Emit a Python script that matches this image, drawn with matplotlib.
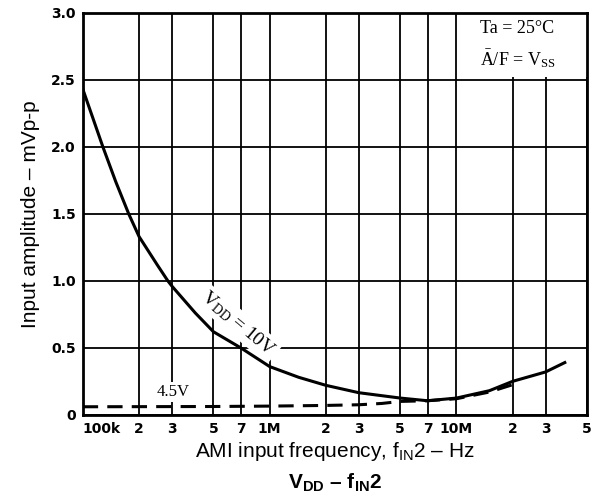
import numpy as np
import matplotlib.pyplot as plt
from matplotlib.patches import Rectangle

# data
freq_10v = [1.0e5, 1.28e5, 1.5e5, 1.76e5, 2.0e5, 2.5e5, 2.85e5, 3.0e5, 4.0e5, 5.0e5, 7.0e5,
            1.0e6, 1.43e6, 2.0e6, 3.0e6, 5.0e6, 7.0e6, 1.0e7, 1.5e7, 2.0e7, 3.0e7, 3.8e7]
amp_10v = [2.43, 2.0, 1.74, 1.50, 1.33, 1.12, 1.0, 0.96, 0.76, 0.62, 0.50,
           0.36, 0.28, 0.22, 0.165, 0.125, 0.105, 0.125, 0.18, 0.25, 0.32, 0.39]

freq_45v = [1.0e5, 5.0e5, 1.0e6, 2.0e6, 3.0e6, 4.0e6, 5.0e6, 7.0e6, 1.0e7, 1.5e7, 2.0e7, 2.2e7]
amp_45v = [0.06, 0.062, 0.065, 0.07, 0.075, 0.085, 0.10, 0.105, 0.12, 0.17, 0.225, 0.24]

xtick_vals = [1e5, 2e5, 3e5, 5e5, 7e5, 1e6, 2e6, 3e6, 5e6, 7e6, 1e7, 2e7, 3e7, 5e7]
xtick_labels = ['100k', '2', '3', '5', '7', '1M', '2', '3', '5', '7', '10M', '2', '3', '5']
ytick_vals = [0, 0.5, 1.0, 1.5, 2.0, 2.5, 3.0]
ytick_labels = ['0', '0.5', '1.0', '1.5', '2.0', '2.5', '3.0']

plt.rcParams['mathtext.fontset'] = 'custom'
plt.rcParams['mathtext.rm'] = 'Liberation Serif'
plt.rcParams['mathtext.it'] = 'Liberation Serif:italic'
plt.rcParams['mathtext.bf'] = 'Liberation Sans:bold'
plt.rcParams['mathtext.sf'] = 'Liberation Sans'

fig = plt.figure(figsize=(5.96, 4.95), dpi=100)
ax = fig.add_axes([0.139, 0.162, 0.846, 0.812])

ax.set_xscale('log')
ax.set_xlim(1e5, 5e7)
ax.set_ylim(0, 3.0)
ax.minorticks_off()

ax.set_xticks(xtick_vals)
ax.set_xticklabels(xtick_labels, fontsize=10, fontweight='bold', family='DejaVu Sans')
ax.get_xticklabels()[0].set_horizontalalignment('left')
ax.set_yticks(ytick_vals)
ax.set_yticklabels(ytick_labels, fontsize=10, fontweight='bold', family='DejaVu Sans')
ax.tick_params(length=0, pad=5)

ax.grid(True, color='black', lw=1.3, zorder=1)
ax.set_axisbelow(True)
for sp in ax.spines.values():
    sp.set_linewidth(2)

# blank area behind the conditions note
ax.add_patch(Rectangle((1.04e7, 2.52), 4e7, 0.47, facecolor='white', edgecolor='none', zorder=1.5))
ax.text(1.33e7, 2.88, 'Ta = 25°C', fontsize=13, family='Liberation Serif',
        va='center', zorder=3)
ax.text(1.33e7, 2.66, r'$\bar{\mathrm{A}}$/F = V$_{\mathrm{SS}}$', fontsize=13,
        family='Liberation Serif', va='center', zorder=3)

ax.plot(freq_10v, amp_10v, color='black', lw=2.2, zorder=4)
ax.plot(freq_45v, amp_45v, color='black', lw=2.2, ls=(0, (5, 3)), zorder=4)

ax.text(6.8e5, 0.68, r'V$_{\mathrm{DD}}$ = 10V', fontsize=14, family='Liberation Serif',
        rotation=-40, ha='center', va='center', zorder=3,
        bbox=dict(facecolor='white', edgecolor='none', pad=2))
ax.text(3.05e5, 0.17, '4.5V', fontsize=12, family='Liberation Serif', ha='center', va='center',
        zorder=3, bbox=dict(facecolor='white', edgecolor='none', pad=1.5))

ax.set_ylabel('Input amplitude – mVp-p', fontsize=15, family='Liberation Sans', labelpad=8)
ax.set_xlabel(r'AMI input frequency, f$_{\mathsf{IN}}$2 – Hz', fontsize=15,
              family='Liberation Sans', labelpad=3)
ax.text(0.5, -0.14, r'V$_{\mathbf{DD}}$ – f$_{\mathbf{IN}}$2', transform=ax.transAxes,
        fontsize=15, fontweight='bold', family='Liberation Sans', ha='center', va='top')

fig.savefig('out.png', dpi=100)
